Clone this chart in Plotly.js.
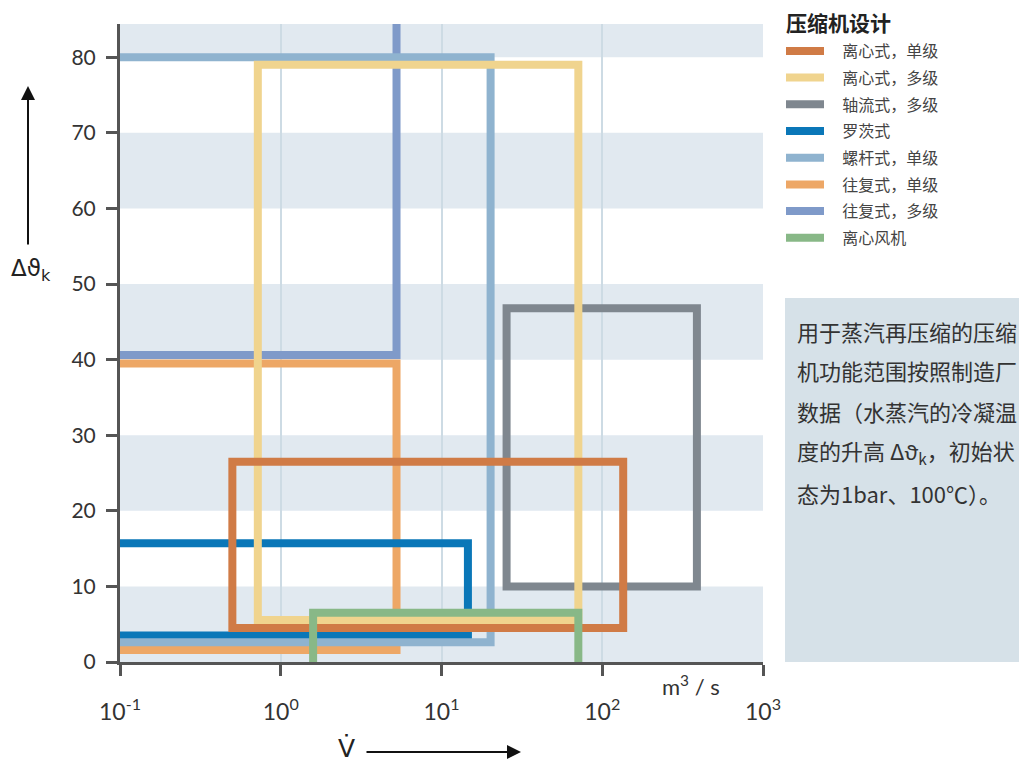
<!DOCTYPE html>
<html>
<head>
<meta charset="utf-8">
<script src="https://cdn.plot.ly/plotly-3.0.1.min.js"></script>
<style>html,body{margin:0;padding:0;background:#fff;}#chart{width:1019px;height:765px;}</style>
</head>
<body>
<div id="chart"></div>
<script>
// ---- data ----
const legendTitle = '压缩机设计';
const seriesNames = ['离心式，单级','离心式，多级','轴流式，多级','罗茨式','螺杆式，单级','往复式，单级','往复式，多级','离心风机'];
const seriesColors = ['#d07b46','#f0d48e','#7f878f','#0a77b8','#8fb3cf','#eda766','#7f9ac9','#88b887'];
// flow range (m³/s), lower and upper bound
const flowLow  = [0.5,  0.72, 25.4, 0.05, 0.05, 0.05, 0.05, 1.59];
const flowHigh = [135,  71,   388,  14.6, 20.2, 5.25, 5.25, 71];
// temperature lift Δϑk (K), lower and upper bound
const liftLow  = [4.5,  5.55, 10,   3.5,  2.6,  1.6,  40.6, -5];
const liftHigh = [26.5, 79,   46.8, 15.7, 80,   39.5, 100,  6.5];
// drawing order (bottom to top)
const drawOrder = [6, 5, 3, 2, 4, 1, 0, 7];

const xTickVals = [0.1, 1, 10, 100, 1000];
const xTickText = ['10<sup>-1</sup>','10<sup>0</sup>','10<sup>1</sup>','10<sup>2</sup>','10<sup>3</sup>'];
const yTickVals = [0,10,20,30,40,50,60,70,80];
const bandStarts = [0, 20, 40, 60, 80];

const noteLines = ['用于蒸汽再压缩的压缩','机功能范围按照制造厂','数据（水蒸汽的冷凝温','度的升高 Δϑ<sub>k</sub>，初始状','态为1bar、100℃）。'];

// ---- traces ----
const gap = '\u2002\u2004';
const traces = drawOrder.map(i => ({
  type: 'scatter',
  mode: 'lines',
  name: gap + seriesNames[i],
  x: [flowLow[i], flowHigh[i], flowHigh[i], flowLow[i], flowLow[i], flowHigh[i]],
  y: [liftLow[i], liftLow[i], liftHigh[i], liftHigh[i], liftLow[i], liftLow[i]],
  line: {color: seriesColors[i], width: 8},
  legendgroup: 'g' + i,
  legendrank: i + 1,
  hoverinfo: 'name'
}));

const yTop = 84.4;
const W = 1019, H = 765, L = 120, R = 763, T = 24, B = 662;
const px = v => (v - L) / (R - L);
const py = v => (B - v) / (B - T);

const shapes = bandStarts.map(s => ({
  type: 'rect', xref: 'paper', yref: 'y', x0: 0, x1: 1, y0: s, y1: Math.min(s + 10, yTop),
  fillcolor: '#e1e9f0', line: {width: 0}, layer: 'below'
}));
shapes.push({
  type: 'rect', xref: 'paper', yref: 'paper', x0: px(785), x1: px(1025), y0: py(662), y1: py(298),
  fillcolor: '#d6e1e8', line: {width: 0}, layer: 'below'
});

const fontFam = 'Lato, "Noto Sans CJK SC", sans-serif';
const cjk = '"Noto Sans CJK SC", Lato, sans-serif';

const annotations = [
  // y arrow
  {xref: 'paper', yref: 'paper', x: px(28), y: py(86), text: '', showarrow: true, ax: 0, ay: 160,
   arrowhead: 2, arrowsize: 1.4, arrowwidth: 2, arrowcolor: '#111'},
  {xref: 'paper', yref: 'paper', x: px(31), y: py(270), xanchor: 'center', yanchor: 'middle', text: 'Δϑ<sub>k</sub>', showarrow: false,
   font: {family: '"DejaVu Sans", sans-serif', size: 23, color: '#222'}},
  // x arrow
  {xref: 'paper', yref: 'paper', x: px(521), y: py(752), text: '', showarrow: true, ax: -156, ay: 0,
   arrowhead: 2, arrowsize: 1.4, arrowwidth: 2, arrowcolor: '#111'},
  {xref: 'paper', yref: 'paper', x: px(346), y: py(748), xanchor: 'center', yanchor: 'middle', text: 'V\u0307', showarrow: false,
   font: {family: '"DejaVu Sans", sans-serif', size: 25, color: '#222'}},
  {xref: 'paper', yref: 'paper', x: px(691), y: py(685), xanchor: 'center', yanchor: 'middle', text: 'm<sup>3</sup> / s', showarrow: false,
   font: {family: fontFam, size: 22, color: '#333'}},
  // legend title
  {xref: 'paper', yref: 'paper', x: px(784), y: py(22), xanchor: 'left', yanchor: 'middle', text: '<b>' + legendTitle + '</b>', showarrow: false,
   font: {family: cjk, size: 21, color: '#222'}}
];
const noteY = [331, 370, 411, 452, 493];
noteLines.forEach((t, k) => annotations.push({
  xref: 'paper', yref: 'paper', x: px(795), y: py(noteY[k]), xanchor: 'left', yanchor: 'middle',
  text: t, showarrow: false, font: {family: cjk, size: 22, color: '#333'}
}));

const layout = {
  width: W, height: H,
  margin: {l: L, r: W - R, t: T, b: H - B, pad: 0},
  paper_bgcolor: '#ffffff', plot_bgcolor: '#ffffff',
  font: {family: fontFam, color: '#333'},
  xaxis: {
    type: 'log', range: [-1, 3], tickvals: xTickVals, ticktext: xTickText,
    showgrid: true, gridcolor: '#cddbe4', gridwidth: 2,
    showline: true, linecolor: '#555', linewidth: 3,
    ticks: 'outside', ticklen: 11, tickwidth: 3, tickcolor: '#555',
    ticklabelstandoff: 16,
    tickfont: {size: 23, color: '#333'}, zeroline: false, fixedrange: true
  },
  yaxis: {
    range: [0, yTop], tickvals: yTickVals,
    showgrid: false, zeroline: false,
    showline: true, linecolor: '#555', linewidth: 3,
    ticks: 'outside', ticklen: 11, tickwidth: 3, tickcolor: '#555',
    ticklabelstandoff: 6,
    tickfont: {size: 21, color: '#333'}, fixedrange: true
  },
  showlegend: true,
  legend: {
    xref: 'container', yref: 'container', x: 781 / W, y: 1 - 34 / H, xanchor: 'left', yanchor: 'top',
    traceorder: 'grouped', tracegroupgap: 2.9, itemwidth: 38,
    font: {family: cjk, size: 16, color: '#444'},
    bgcolor: 'rgba(0,0,0,0)', borderwidth: 0
  },
  shapes: shapes,
  annotations: annotations
};

Plotly.newPlot('chart', traces, layout, {displayModeBar: false, staticPlot: true});
</script>
</body>
</html>
